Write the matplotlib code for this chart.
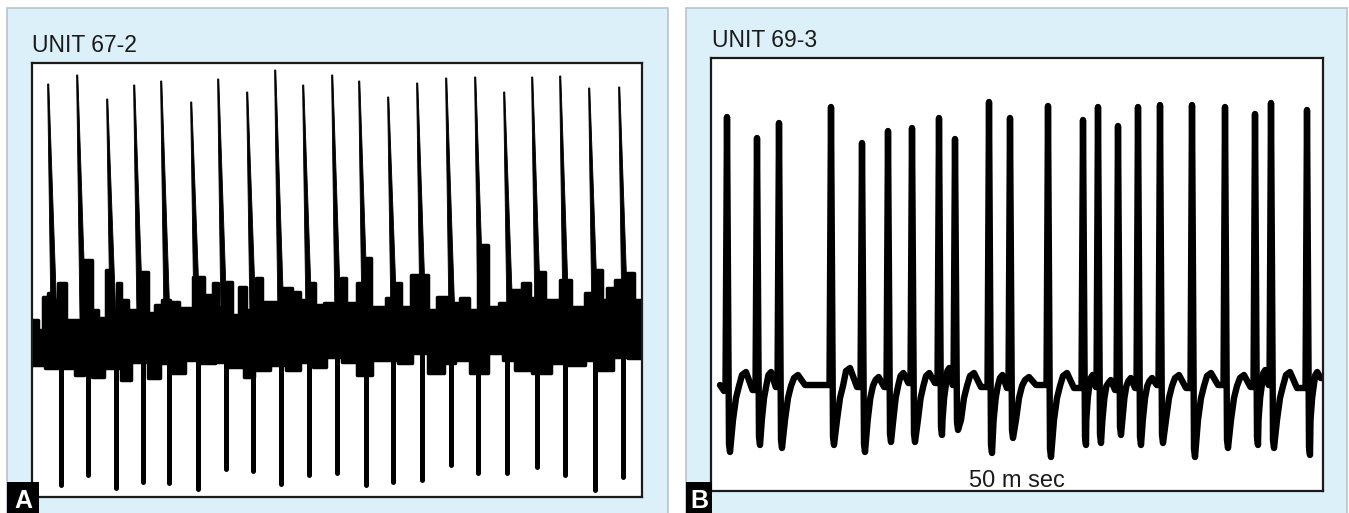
import numpy as np
import matplotlib.pyplot as plt
from matplotlib.patches import Rectangle

plt.rcParams['font.family'] = ['Liberation Sans', 'DejaVu Sans']

W, H = 1349, 513

# ---- panel A: UNIT 67-2, readings in screen units of the record ----
a_up_t = [48, 77, 107, 134, 161, 191, 218, 247, 275, 303, 332, 359, 388, 417, 446, 475, 504, 532, 560, 589, 619]
a_up_top = [84, 75, 99, 85, 81, 102, 79, 92, 70, 85, 75, 81, 97, 83, 78, 77, 92, 77, 76, 88, 87]
a_dn_t = [61, 88, 116, 143, 169, 198, 226, 253, 281, 309, 337, 366, 393, 422, 451, 478, 507, 537, 565, 595, 623]
a_dn_bot = [485, 475, 488, 482, 483, 489, 469, 471, 484, 475, 473, 485, 482, 480, 465, 473, 473, 467, 475, 490, 477]

# upper / lower edge of the noisy baseline
a_hi_t = [32, 38, 43, 48, 53, 58, 66, 84, 92, 98, 106, 111, 117, 121, 128, 141, 148, 155, 162, 170,
          179, 193, 204, 213, 218, 224, 232, 239, 246, 256, 262, 282, 292, 300, 309, 315, 324, 333, 341, 346,
          357, 366, 371, 386, 396, 401, 411, 428, 437, 452, 460, 469, 478, 488, 499, 511, 522, 530, 537, 545,
          560, 571, 585, 594, 602, 607, 615, 627, 634, 642]
a_hi_v = [320, 330, 297, 293, 300, 283, 320, 260, 310, 318, 270, 310, 283, 300, 310, 272, 313, 305, 300, 302,
          308, 277, 295, 283, 307, 282, 315, 287, 310, 278, 302, 288, 292, 300, 283, 305, 303, 307, 278, 303,
          283, 258, 307, 298, 283, 307, 275, 310, 297, 303, 298, 310, 245, 307, 303, 290, 283, 298, 272, 300,
          280, 307, 293, 270, 300, 288, 280, 273, 300, 300]
a_lo_t = [32, 45, 75, 84, 92, 104, 121, 131, 148, 160, 171, 185, 200, 215, 228, 244, 254, 270, 286, 300,
          313, 326, 342, 357, 372, 398, 412, 428, 444, 455, 470, 488, 503, 515, 532, 551, 568, 585, 596, 613,
          628, 642]
a_lo_v = [365, 368, 375, 365, 377, 368, 380, 362, 378, 363, 373, 360, 363, 362, 367, 377, 370, 365, 370, 362,
          367, 357, 362, 375, 360, 363, 353, 373, 363, 360, 373, 353, 360, 370, 373, 363, 365, 360, 370, 357,
          358, 358]

# ---- panel B: UNIT 69-3 ----
b_spike_t = [727, 757, 779, 831, 862, 888, 912, 939, 955, 989, 1010, 1048, 1083, 1098, 1118, 1138, 1160,
             1192, 1225, 1255, 1271, 1307]
b_peak = [117, 138, 123, 107, 143, 131, 128, 118, 139, 102, 118, 106, 120, 107, 126, 107, 105, 105, 107,
          114, 103, 110]
b_trough = [452, 445, 448, 445, 452, 442, 442, 435, 430, 453, 438, 457, 445, 443, 435, 445, 443, 457, 448,
            445, 448, 455]
b_hump = [372, 372, 375, 368, 377, 373, 373, 368, 373, 375, 377, 373, 375, 380, 378, 378, 375, 373, 375,
          370, 372, 372]
b_plateau = [390, 387, 385, 387, 387, 383, 383, 385, 387, 388, 385, 388, 387, 390, 388, 385, 388, 385, 387,
             385, 388, 378]
b_start = (720, 385)
b_end = 1323

bg_col = '#dcf0fa'
edge_col = '#b9c3cb'


def unit_trace(t, peak, trough, hump, plat, start, end):
    # spike up, fall to trough, slow slanted recovery, small hump, plateau
    xs, ys = [start[0], start[0] + 4], [start[1], start[1] + 6]
    before = start[1]
    for i in range(len(t)):
        nxt = t[i + 1] if i + 1 < len(t) else end
        g = nxt - t[i]
        xs += [t[i] - 1.5, t[i], t[i] + 2, t[i] + 3,
               t[i] + min(6, .22 * g), t[i] + min(9, .32 * g), t[i] + min(12, .42 * g),
               t[i] + min(15, .52 * g), t[i] + min(19, .64 * g), t[i] + min(26, .85 * g)]
        ys += [before, peak[i], trough[i] - 8, trough[i],
               420, 398, 386, hump[i] + 3, hump[i], plat[i]]
        before = plat[i]
    xs.append(end)
    ys.append(before)
    return np.array(xs), np.array(ys)


fig = plt.figure(figsize=(W / 100, H / 100), dpi=100)
fig.patch.set_facecolor('white')

# background frames
bg = fig.add_axes([0, 0, 1, 1], zorder=0)
bg.set_xlim(0, W)
bg.set_ylim(H, 0)
bg.axis('off')
bg.add_patch(Rectangle((6.5, 7.5), 661.5, 520, facecolor=bg_col, edgecolor=edge_col, lw=1.2))
bg.add_patch(Rectangle((685.5, 7.5), 661, 520, facecolor=bg_col, edgecolor=edge_col, lw=1.2))
bg.text(32, 52, 'UNIT 67-2', fontsize=16.5, va='baseline', ha='left', color='#1a1a1a')
bg.text(712, 47, 'UNIT 69-3', fontsize=16.5, va='baseline', ha='left', color='#1a1a1a')

# panel A trace
ax_a = fig.add_axes([32 / W, 1 - 497 / H, 610 / W, 434 / H], zorder=1)
ax_a.set_xlim(32, 642)
ax_a.set_ylim(497, 63)
ax_a.fill_between(a_hi_t, a_hi_v, 345, step='post', color='black', lw=0)
ax_a.fill_between(a_lo_t, a_lo_v, 340, step='post', color='black', lw=0)
ax_a.step(a_hi_t, a_hi_v, where='post', color='black', lw=2.5, solid_joinstyle='round')
ax_a.step(a_lo_t, a_lo_v, where='post', color='black', lw=2.5, solid_joinstyle='round')
for t, top in zip(a_up_t, a_up_top):
    ax_a.fill([t - 0.4, t + 0.8, t + 9, t + 3], [top, top, 320, 320], color='black', lw=0.6)
for t, bot in zip(a_dn_t, a_dn_bot):
    ax_a.plot([t, t], [350, bot], color='black', lw=3.6, solid_capstyle='round')

# panel B trace
ax_b = fig.add_axes([711 / W, 1 - 491 / H, 612 / W, 433 / H], zorder=1)
ax_b.set_xlim(711, 1323)
ax_b.set_ylim(491, 58)
bx, by = unit_trace(b_spike_t, b_peak, b_trough, b_hump, b_plateau, b_start, b_end)
ax_b.plot(bx, by, color='black', lw=4.6, solid_joinstyle='round', solid_capstyle='round')
ax_b.text(1017, 487, '50 m sec', fontsize=17, ha='center', va='baseline', color='#1a1a1a')

for ax in (ax_a, ax_b):
    ax.set_xticks([])
    ax.set_yticks([])
    ax.set_facecolor('white')
    for s in ax.spines.values():
        s.set_linewidth(1.6)
        s.set_color('#1a1a1a')

# panel letters
fg = fig.add_axes([0, 0, 1, 1], zorder=5)
fg.set_xlim(0, W)
fg.set_ylim(H, 0)
fg.axis('off')
fg.patch.set_alpha(0)
for x0, w, lab in [(7, 32, 'A'), (686, 26, 'B')]:
    fg.add_patch(Rectangle((x0, 482), w, 35, facecolor='black', edgecolor='none'))
    fg.text(x0 + w / 2, 508, lab, color='white', fontsize=18, fontweight='bold',
            ha='center', va='baseline')

fig.savefig('out.png', dpi=100)
